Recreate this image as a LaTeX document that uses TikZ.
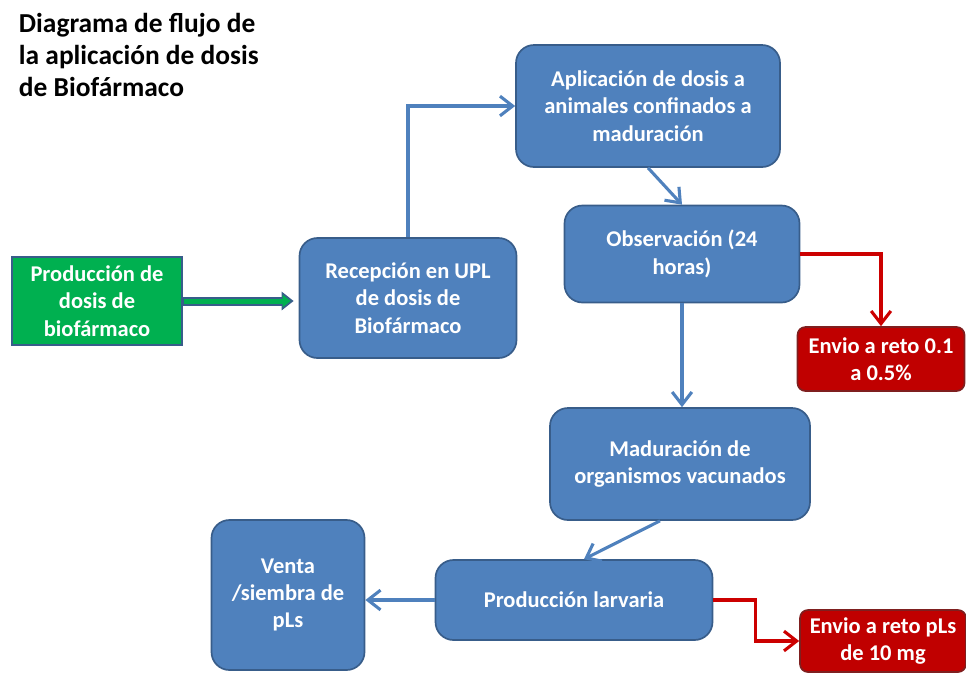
\documentclass[tikz,border=0pt]{standalone}
\usepackage{fontspec}
\setmainfont{Carlito}
\usepackage{xcolor}
\usetikzlibrary{arrows.meta,positioning}

\definecolor{boxblue}{HTML}{4F81BD}
\definecolor{edgeblue}{HTML}{385D8A}
\definecolor{boxred}{HTML}{C00000}
\definecolor{edgered}{HTML}{7F1F1F}
\definecolor{linered}{HTML}{CC0000}
\definecolor{boxgreen}{HTML}{00B050}

\def\pu{0.025cm}

\tikzset{
  every node/.append style = {font=\bfseries\fontsize{16}{19.5}\selectfont, align=center},
  stage/.style = {draw=edgeblue, fill=boxblue, text=white, line width=1.2pt,
                  rounded corners=18*\pu},
  alert/.style = {draw=edgered, fill=boxred, text=white, line width=1.2pt,
                  rounded corners=8*\pu},
  source/.style = {draw=edgeblue, fill=boxgreen, text=white, line width=1.2pt},
  flow/.style = {draw=boxblue, line width=2.2pt,
                 -{Straight Barb[length=9pt,width=14pt,line width=2.2pt]}},
  reject/.style = {draw=linered, line width=2.2pt,
                   -{Straight Barb[length=9pt,width=14pt,line width=2.2pt]}}
}

\begin{document}
\begin{tikzpicture}[x=0.025cm, y=-0.025cm]
  \useasboundingbox (0,0) rectangle (966,673);

  % title
  \node[anchor=north west, align=left, font=\bfseries\fontsize{19.5}{23}\selectfont]
    (title) at (14,8) {Diagrama de flujo de\\la aplicación de dosis\\de Biofármaco};

  % boxes
  \node[source, minimum width=170*\pu, minimum height=88*\pu] (prod) at (97,301)
    {Producción de\\dosis de\\biofármaco};
  \node[stage, minimum width=217*\pu, minimum height=120*\pu] (recep) at (408,298)
    {Recepción en UPL\\de dosis de\\Biofármaco};
  \node[stage, minimum width=264*\pu, minimum height=122*\pu] (aplic) at (648,106)
    {Aplicación de dosis a\\animales confinados a\\maduración};
  \node[stage, minimum width=235*\pu, minimum height=97*\pu] (obs) at (682,254)
    {Observación (24\\horas)};
  \node[alert, minimum width=167*\pu, minimum height=64*\pu] (envioA) at (881,359)
    {Envio a reto 0.1\\a 0.5\%};
  \node[stage, minimum width=260*\pu, minimum height=112*\pu] (madur) at (680,464)
    {Maduración de\\organismos vacunados};
  \node[stage, minimum width=277*\pu, minimum height=80*\pu] (larva) at (574,600)
    {Producción larvaria};
  \node[stage, minimum width=153*\pu, minimum height=150*\pu] (venta) at (288,595)
    {Venta\\/siembra de\\pLs};
  \node[alert, minimum width=166*\pu, minimum height=62*\pu] (envioB) at (883,641)
    {Envio a reto pLs\\de 10 mg};

  % green block arrow
  \draw[edgeblue, line width=9*\pu, shorten >=5*\pu,
        -{Triangle[length=12*\pu,width=18*\pu]}] (prod.east) -- (prod.east -| recep.west);
  \draw[boxgreen, line width=5*\pu, shorten >=8*\pu, shorten <=1*\pu,
        -{Triangle[length=8*\pu,width=12*\pu]}] (prod.east) -- (prod.east -| recep.west);

  % connectors
  \draw[flow] (recep.north) |- (aplic.west);
  \draw[flow] (aplic.south) -- (obs.north);
  \draw[flow] (obs.south) -- (obs.south |- madur.north);
  \draw[flow] ([xshift=-20*\pu]madur.south) -- ([xshift=10*\pu]larva.north);
  \draw[flow] (larva.west) -- (larva.west -| venta.east);
  \draw[reject] (obs.east) -| (envioA.north);
  \draw[reject] (larva.east) -- ++(42,0) |- (envioB.west);
\end{tikzpicture}
\end{document}
